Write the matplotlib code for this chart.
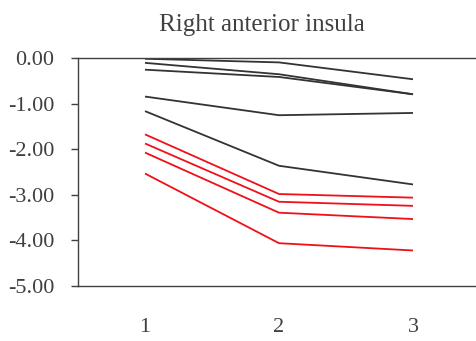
import matplotlib
matplotlib.use('Agg')
import matplotlib.pyplot as plt

# sessions on the x axis
sessions = [1, 2, 3]

# per-subject values, right anterior insula
black_series = [
    [-0.01, -0.09, -0.46],
    [-0.10, -0.35, -0.79],
    [-0.25, -0.41, -0.79],
    [-0.84, -1.25, -1.20],
    [-1.16, -2.36, -2.77],
]
red_series = [
    [-1.67, -2.98, -3.06],
    [-1.87, -3.15, -3.24],
    [-2.07, -3.39, -3.53],
    [-2.53, -4.06, -4.22],
]
y_ticks = [0, -1, -2, -3, -4, -5]

plt.rcParams['font.family'] = ['Liberation Serif', 'DejaVu Serif']
axis_color = '#404040'

fig = plt.figure(figsize=(4.77, 3.41), dpi=100)
ax = fig.add_axes([78 / 477, 55 / 341, 402 / 477, 227.7 / 341])

for ys in black_series:
    ax.plot(sessions, ys, color='#333333', lw=1.3, solid_capstyle='butt')
for ys in red_series:
    ax.plot(sessions, ys, color='#f01018', lw=1.3, solid_capstyle='butt')

ax.set_xlim(0.5, 3.5)
ax.set_ylim(-5, 0)
ax.set_yticks(y_ticks)
ax.set_yticklabels(['%.2f' % v for v in y_ticks])
ax.set_xticks(sessions)
ax.set_xticklabels([str(s) for s in sessions])

for side in ['left', 'top', 'bottom']:
    ax.spines[side].set_color(axis_color)
    ax.spines[side].set_linewidth(1.0)
ax.spines['right'].set_visible(False)

ax.tick_params(axis='y', length=5, width=1.0, color=axis_color, pad=12,
               labelsize=16, labelcolor=axis_color)
ax.tick_params(axis='x', length=0, pad=23, labelsize=16, labelcolor=axis_color)

ax.set_title('Right anterior insula', fontsize=18, color=axis_color,
             x=0.458, pad=20)

fig.savefig('out.png', dpi=100)
